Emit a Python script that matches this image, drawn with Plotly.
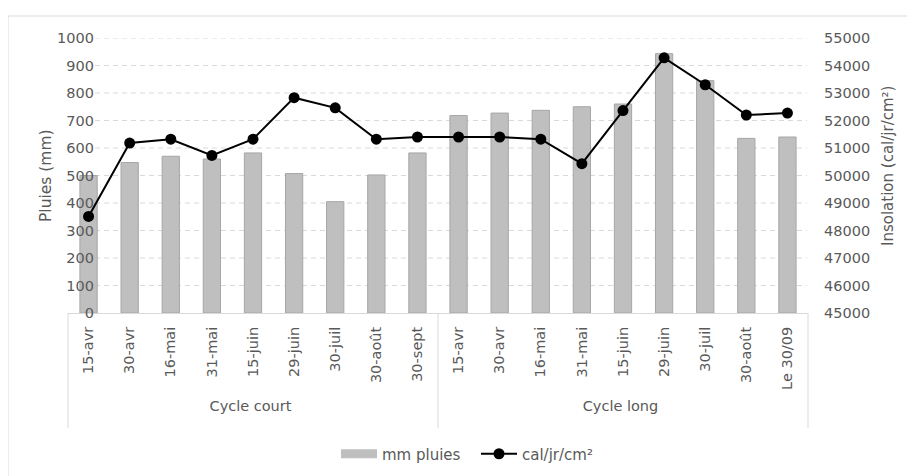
import plotly.graph_objects as go

# ---- data ----
cycles = ["Cycle court"] * 9 + ["Cycle long"] * 9
dates = ["15-avr", "30-avr", "16-mai", "31-mai", "15-juin", "29-juin", "30-juil", "30-août", "30-sept",
         "15-avr", "30-avr", "16-mai", "31-mai", "15-juin", "29-juin", "30-juil", "30-août", "Le 30/09"]
pluies_mm = [500, 547, 570, 560, 582, 507, 405, 502, 582,
             718, 727, 737, 750, 760, 943, 845, 635, 640]
insolation = [48510, 51180, 51320, 50730, 51320, 52830, 52460, 51320, 51400,
              51400, 51400, 51320, 50430, 52360, 54280, 53300, 52200, 52270]
left_ticks = [0, 100, 200, 300, 400, 500, 600, 700, 800, 900, 1000]
right_ticks = [45000, 46000, 47000, 48000, 49000, 50000, 51000, 52000, 53000, 54000, 55000]

W, H = 915, 476
OX, OY = 8, 8          # page offset of the plot div
# plot area target in screen pixels: x 68..808, y 38..313
L, R, T, B = 68 - OX, W - (808 - OX), 38 - OY, H - (313 - OY)
PW, PH = W - L - R, H - T - B


def px_x(px):
    return (px - OX - L) / PW


def px_y(py):
    return (H - B - (py - OY)) / PH


FONT = "DejaVu Sans"
GREY = "#595959"
GRID = "#d9d9d9"
TICK = 14.5

fig = go.Figure()
fig.add_trace(go.Bar(
    x=[cycles, dates], y=pluies_mm, name="mm pluies", showlegend=False,
    marker=dict(color="#bfbfbf", line=dict(color="#a6a6a6", width=1)),
))
# legend swatch for the bars (wide flat rectangle like the original)
fig.add_trace(go.Scatter(
    x=[None], y=[None], mode="lines", name="mm pluies",
    line=dict(color="#bfbfbf", width=9),
))
fig.add_trace(go.Scatter(
    x=[cycles, dates], y=insolation, name="cal/jr/cm²", yaxis="y2",
    mode="lines+markers",
    line=dict(color="black", width=2),
    marker=dict(color="black", size=11),
))

shapes = []
for v in left_ticks[1:]:
    shapes.append(dict(type="line", xref="paper", yref="y", x0=px_x(95), x1=px_x(807), y0=v, y1=v,
                       line=dict(color=GRID, width=1, dash="5px,4px"), layer="below"))
# group dividers of the category table (at the group boundaries)
n = len(dates)
group_edges = [0] + [i for i in range(1, n) if cycles[i] != cycles[i - 1]] + [n]
for e in group_edges:
    xp = e / n
    shapes.append(dict(type="line", xref="paper", yref="paper", x0=xp, x1=xp,
                       y0=px_y(313), y1=px_y(428), line=dict(color=GRID, width=1)))
shapes.append(dict(type="rect", xref="paper", yref="paper", x0=px_x(8), x1=px_x(940),
                   y0=px_y(500), y1=px_y(16), line=dict(color=GRID, width=1), layer="below"))

annotations = [
    dict(text="Pluies (mm)", xref="paper", yref="paper", x=px_x(46), y=px_y(176), textangle=-90,
         showarrow=False, font=dict(family=FONT, size=15.5, color=GREY), xanchor="center", yanchor="middle"),
    dict(text="Insolation (cal/jr/cm²)", xref="paper", yref="paper", x=px_x(888), y=px_y(166), textangle=-90,
         showarrow=False, font=dict(family=FONT, size=15, color=GREY), xanchor="center", yanchor="middle"),
    dict(text="<b><i><u>Année 2</u></i></b>", xref="paper", yref="paper", x=px_x(469), y=px_y(-2),
         showarrow=False, font=dict(family=FONT, size=19, color="black"), xanchor="center", yanchor="middle"),
]

fig.update_layout(
    width=W, height=H, autosize=False,
    margin=dict(l=L, r=R, t=T, b=B, pad=0, autoexpand=False),
    paper_bgcolor="white", plot_bgcolor="white",
    font=dict(family=FONT, size=TICK, color=GREY),
    bargap=0.58,
    showlegend=True,
    legend=dict(orientation="h", x=px_x(336), y=px_y(454), xanchor="left", yanchor="middle",
                font=dict(family=FONT, size=15, color=GREY), itemwidth=36, entrywidth=89,
                bgcolor="rgba(0,0,0,0)"),
    xaxis=dict(type="multicategory", range=[-0.5, 17.5], tickangle=-90, showline=True, linecolor=GRID,
               linewidth=1, showgrid=False, ticks="", showdividers=False, ticklabelstandoff=7,
               automargin=False, tickfont=dict(family=FONT, size=TICK, color=GREY)),
    yaxis=dict(range=[0, 1000], tickvals=left_ticks, showgrid=False, zeroline=False, showline=False,
               ticks="", ticklabelstandoff=-27, automargin=False,
               tickfont=dict(family=FONT, size=TICK, color=GREY)),
    yaxis2=dict(range=[45000, 55000], tickvals=right_ticks, tickformat="d", overlaying="y", side="right",
                showgrid=False, zeroline=False, showline=False, ticks="", ticklabelstandoff=15,
                automargin=False, tickfont=dict(family=FONT, size=TICK, color=GREY)),
    shapes=shapes,
    annotations=annotations,
)

fig.write_html("out.html")
